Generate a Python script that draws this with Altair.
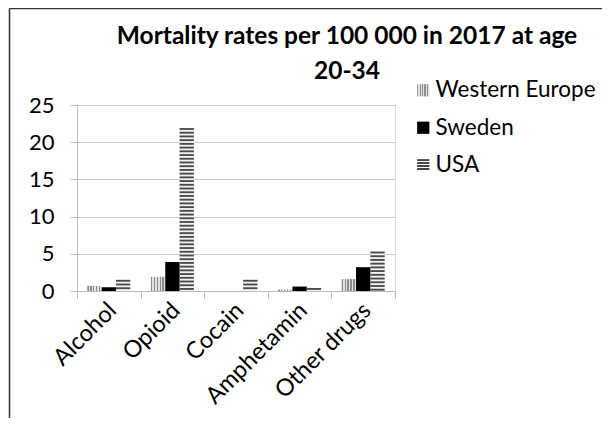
import altair as alt
import pandas as pd

categories = ["Alcohol", "Opioid", "Cocain", "Amphetamin", "Other drugs"]
series = ["Western Europe", "Sweden", "USA"]
western_europe = [0.7, 1.9, 0.0, 0.2, 1.6]
sweden = [0.5, 3.9, 0.0, 0.6, 3.2]
usa = [1.5, 21.9, 1.5, 0.4, 5.3]

rows = []
for name, vals in zip(series, [western_europe, sweden, usa]):
    for c, v in zip(categories, vals):
        rows.append({"category": c, "series": name, "value": v})
df = pd.DataFrame(rows)


def stripes(vertical, n, c1, c2):
    stops = []
    for i in range(n):
        a, m, b = i / n, (i + 0.5) / n, (i + 1) / n
        stops += [(a, c1), (m, c1), (m, c2), (b, c2)]
    s = ",".join("{offset:%.4f,color:'%s'}" % (o, c) for o, c in stops)
    if vertical:
        return "{gradient:'linear',x1:0,y1:0,x2:1,y2:0,stops:[%s]}" % s
    return "{gradient:'linear',x1:0,y1:0,x2:0,y2:1,stops:[%s]}" % s


FONT = "Lato"
W, H = 318, 186
TOTAL_H = 410
PAD = {"left": 69, "top": 97, "right": 594 - 69 - 318, "bottom": TOTAL_H - 97 - 186}

x_enc = alt.X(
    "category:N",
    sort=categories,
    scale=alt.Scale(paddingInner=0, paddingOuter=0),
    axis=alt.Axis(
        title=None, labelAngle=-45, tickBand="extent", labelFontSize=23.5,
        labelFont=FONT, labelColor="black", tickSize=7, tickColor="#bbbbbb",
        domainColor="#bbbbbb", labelPadding=0, labelOffset=-5, grid=False,
    ),
)
xo_enc = alt.XOffset("series:N", scale=alt.Scale(domain=series, paddingInner=0, paddingOuter=0.72))
y_scale = alt.Scale(domain=[0, 25])
y_axis = alt.Axis(
    title=None, values=[0, 5, 10, 15, 20, 25], labelFontSize=22, labelFont=FONT,
    labelColor="black", tickSize=7, tickColor="#bbbbbb", domainColor="#bbbbbb",
    gridColor="#c8c8c8", labelPadding=16,
)

base = alt.Chart(df)

usa_bg = base.transform_filter(alt.datum.series == "USA").mark_bar(fill="#f2f2f2").encode(
    x=x_enc, xOffset=xo_enc, y=alt.Y("value:Q", scale=y_scale, axis=y_axis)
)

colored = base.transform_filter(alt.datum.series != "USA").mark_bar().encode(
    x=x_enc,
    xOffset=xo_enc,
    y=alt.Y("value:Q", scale=y_scale, axis=y_axis),
    color=alt.Color(
        "series:N",
        scale=alt.Scale(
            domain=series,
            range=[{"expr": stripes(True, 5, "#8c8c8c", "#e2e2e2")}, "black",
                   {"expr": stripes(False, 4, "#444444", "#ffffff")}],
        ),
        legend=alt.Legend(
            title=None, orient="none", legendX=335, legendY=-26, labelFontSize=22.5,
            labelFont=FONT, labelColor="black", symbolType="square", symbolSize=150,
            rowPadding=14.5, labelOffset=1, padding=0, symbolStrokeWidth=0, labelLimit=300,
        ),
    ),
)

usa_stripes = (
    base.transform_filter(alt.datum.series == "USA")
    .transform_calculate(seq="sequence(0, datum.value, 0.5)")
    .transform_flatten(["seq"])
    .transform_calculate(top="datum.value - datum.seq", bot="max(datum.value - datum.seq - 0.25, 0)")
    .mark_bar(color="#4a4a4a")
    .encode(x=x_enc, xOffset=xo_enc, y=alt.Y("top:Q", scale=y_scale, axis=y_axis), y2="bot:Q")
)

frame_df = pd.DataFrame({"k": [0]})
frame_left = alt.Chart(frame_df).mark_rule(color="#333333", strokeWidth=1.5).encode(
    x=alt.value(-67.5), y=alt.value(-96.5), y2=alt.value(420)
)
frame_top = alt.Chart(frame_df).mark_rule(color="#333333", strokeWidth=1.5).encode(
    x=alt.value(-67.5), x2=alt.value(600), y=alt.value(-96.5)
)

chart = (
    alt.layer(usa_bg, colored, usa_stripes, frame_left, frame_top)
    .properties(
        width=W, height=H,
        autosize=alt.AutoSizeParams(type="none"),
        padding=PAD,
        title=alt.TitleParams(
            ["Mortality rates per 100 000 in 2017 at age", "20-34"],
            font=FONT, fontSize=24.5, fontWeight="bold", anchor="middle", dx=111,
            lineHeight=35, offset=0, dy=77, color="black", frame="group",
        ),
    )
    .configure_view(stroke=None)
    .configure(background="white")
)

chart.save("out.html", embed_options={"renderer": "svg", "actions": False})
